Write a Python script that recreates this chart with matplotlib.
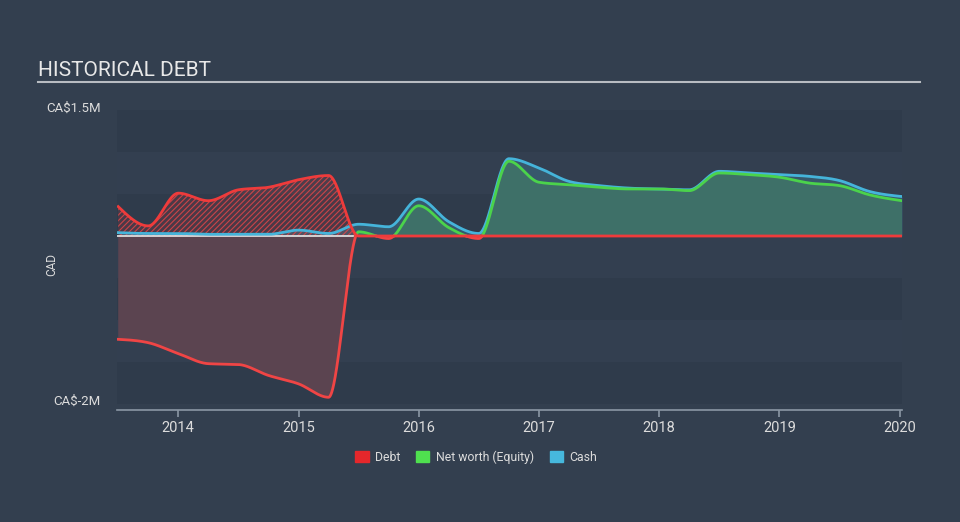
import numpy as np
import matplotlib
matplotlib.use("Agg")
import matplotlib.pyplot as plt
from matplotlib.patches import Patch

plt.rcParams['font.family'] = ['Roboto', 'DejaVu Sans']
plt.rcParams['hatch.linewidth'] = 0.8

# ---- data (CA$ millions), quarterly ----
years = [2013.5, 2013.75, 2014.0, 2014.25, 2014.5, 2014.75, 2015.0, 2015.25,
         2015.5, 2015.75, 2016.0, 2016.25, 2016.5, 2016.75, 2017.0, 2017.25,
         2017.5, 2017.75, 2018.0, 2018.25, 2018.5, 2018.75, 2019.0, 2019.25,
         2019.5, 2019.75, 2020.02]
debt = [0.35, 0.12, 0.51, 0.42, 0.55, 0.58, 0.67, 0.72,
        0.0, 0.0, 0.0, 0.0, 0.0, 0.0, 0.0, 0.0,
        0.0, 0.0, 0.0, 0.0, 0.0, 0.0, 0.0, 0.0,
        0.0, 0.0, 0.0]
equity = [-1.23, -1.27, -1.40, -1.52, -1.53, -1.66, -1.76, -1.92,
          0.05, -0.03, 0.36, 0.10, -0.03, 0.89, 0.64, 0.61,
          0.58, 0.56, 0.56, 0.54, 0.75, 0.73, 0.70, 0.63,
          0.60, 0.49, 0.42]
cash = [0.04, 0.03, 0.03, 0.02, 0.02, 0.02, 0.07, 0.03,
        0.14, 0.11, 0.44, 0.17, 0.03, 0.92, 0.81, 0.65,
        0.60, 0.57, 0.56, 0.55, 0.77, 0.75, 0.73, 0.71,
        0.66, 0.53, 0.47]
xticks = [2014, 2015, 2016, 2017, 2018, 2019, 2020]
legend_labels = ["Debt", "Net worth (Equity)", "Cash"]


def monotone(x, y, n=3000):
    x = np.asarray(x, float); y = np.asarray(y, float)
    h = np.diff(x); s = np.diff(y) / h
    m = np.zeros_like(y)
    for i in range(1, len(x) - 1):
        h0, h1, s0, s1 = h[i-1], h[i], s[i-1], s[i]
        p = (s0 * h1 + s1 * h0) / (h0 + h1)
        m[i] = (np.sign(s0) + np.sign(s1)) * min(abs(s0), abs(s1), 0.5 * abs(p))
    m[0] = (3 * s[0] - m[1]) / 2 if len(x) > 2 else s[0]
    m[-1] = (3 * s[-1] - m[-2]) / 2 if len(x) > 2 else s[-1]
    xs = np.linspace(x[0], x[-1], n)
    idx = np.clip(np.searchsorted(x, xs) - 1, 0, len(x) - 2)
    t = (xs - x[idx]) / h[idx]
    h00 = 2*t**3 - 3*t**2 + 1; h10 = t**3 - 2*t**2 + t
    h01 = -2*t**3 + 3*t**2; h11 = t**3 - t**2
    ys = h00*y[idx] + h10*h[idx]*m[idx] + h01*y[idx+1] + h11*h[idx]*m[idx+1]
    return xs, ys


BG = '#333f4f'
fig = plt.figure(figsize=(9.6, 5.22), dpi=100, facecolor=BG)
ax = fig.add_axes([117/960, 1 - 410/522, (902-117)/960, (410-110)/522])
ax.set_facecolor(BG)
x0, x1 = 2013.49, 2020.02
ax.set_xlim(x0, x1)
ax.set_ylim(-2.0714, 1.5)

# bands
edges = np.arange(1.5, -2.01, -0.5)
for i in range(len(edges) - 1):
    col = '#2f3b4b' if i % 2 == 0 else '#333f50'
    ax.axhspan(edges[i+1], edges[i], color=col, lw=0, zorder=0)

xd, yd = monotone(years, debt)
yd = np.clip(yd, 0, None)
xe, ye = monotone(years, equity)
xc, yc = monotone(years, cash)

# fills
ax.fill_between(xc, 0, yc, where=yc > 0, color='#37586c', lw=0, zorder=1)
ax.fill_between(xe, 0, ye, where=ye > 0, color='#3e7068', lw=0, zorder=2)
ax.fill_between(xe, 0, ye, where=ye < 0, color='#5b4450', lw=0, zorder=2)
ax.fill_between(xd, 0, yd, where=yd > 0, facecolor=(0.9, 0.2, 0.2, 0.15),
                edgecolor=(0.92, 0.28, 0.28, 0.8), hatch='//////', lw=0, zorder=3)

# zero line (white under the negative area)
ax.plot([x0, 2015.45], [0, 0], color='#e8e8e8', lw=1.2, zorder=4)

# lines
ax.plot(xc, yc, color='#45b4da', lw=2, zorder=5)
gpos = np.where(ye >= 0, ye, np.nan)
gneg = np.where(ye < 0, ye, np.nan)
ax.plot(xe, gpos, color='#4bd34b', lw=2, zorder=6)
ax.plot(xe, gneg, color='#f04545', lw=2, zorder=6)
ax.plot(xd, yd, color='#ef3b3b', lw=2, zorder=7)

# axes styling
for sp in ['top', 'right', 'left']:
    ax.spines[sp].set_visible(False)
ax.spines['bottom'].set_color('#8b97a5')
ax.spines['bottom'].set_linewidth(1.2)
ax.set_yticks([])
ax.set_xticks(xticks)
ax.set_xticklabels([str(t) for t in xticks])
ax.tick_params(axis='x', colors='#8b97a5', length=5, width=1.2, labelcolor='#dcdcdc',
               labelsize=10.5, pad=3)

# title and rule
fig.text(38/960, 1 - 70/522, "HISTORICAL DEBT", color='#e8e8e8', fontsize=15,
         va='center', ha='left')
fig.add_artist(plt.Line2D([38/960, 920/960], [1 - 82/522, 1 - 82/522],
                          color='#b8bcc2', lw=1.5))

fig.text(101/960, 1 - 108/522, "CA\\$1.5M", color='#dcdcdc', fontsize=9.5,
         ha='right', va='center')
fig.text(101/960, 1 - 401/522, "CA\\$-2M", color='#dcdcdc', fontsize=9.5,
         ha='right', va='center')
fig.text(52/960, 1 - 265/522, "CAD", color='#dcdcdc', fontsize=8.5,
         ha='center', va='center', rotation=90)

handles = [Patch(color='#e5272b'), Patch(color='#4fe04f'), Patch(color='#46b8dd')]
fig.legend(handles, legend_labels, loc='center', bbox_to_anchor=(476/960, 1 - 457/522),
           ncol=3, frameon=False, fontsize=8.8, labelcolor='#dcdcdc',
           handlelength=1.1, handleheight=1.1, columnspacing=1.3, handletextpad=0.5)

fig.savefig('out.png', dpi=100, facecolor=BG)
